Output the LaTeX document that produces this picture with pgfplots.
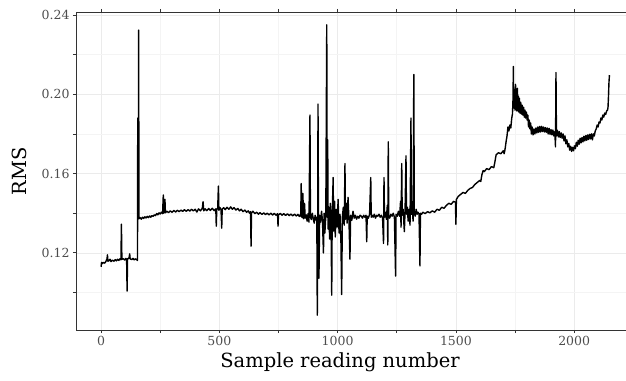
\documentclass[border=0pt]{standalone}
\usepackage{pgfplots}
\pgfplotsset{compat=1.18}
\usepackage{pgfplotstable}
\usepackage{fontspec}
\setmainfont{DejaVu Serif}
\definecolor{ticktxt}{HTML}{4D4D4D}
\definecolor{axln}{HTML}{333333}
\definecolor{gridmaj}{HTML}{EBEBEB}
\definecolor{gridmin}{HTML}{F4F4F4}
\pgfplotstableread{
x y
0 0.1130
2 0.1152
5 0.1146
10 0.1152
15 0.1148
20 0.1156
25 0.1170
27 0.1190
29 0.1158
33 0.1160
38 0.1168
42 0.1156
48 0.1163
55 0.1158
60 0.1166
65 0.1160
70 0.1168
75 0.1162
80 0.1170
84 0.1165
86 0.1345
88 0.1168
95 0.1170
100 0.1164
105 0.1172
108 0.1166
110 0.1007
112 0.1170
118 0.1174
121 0.1195
123 0.1170
130 0.1166
135 0.1172
140 0.1165
145 0.1170
150 0.1166
154 0.1162
155 0.1880
156 0.1400
157 0.1850
158 0.1380
159 0.2324
160 0.1372
165 0.1378
170 0.1370
175 0.1380
180 0.1374
185 0.1382
190 0.1376
195 0.1384
200 0.1378
205 0.1386
210 0.1380
215 0.1388
220 0.1384
225 0.1392
230 0.1388
235 0.1398
240 0.1392
245 0.1402
250 0.1396
255 0.1405
260 0.1398
263 0.1492
265 0.1400
268 0.1410
270 0.1470
272 0.1402
278 0.1410
285 0.1403
292 0.1412
300 0.1405
308 0.1414
315 0.1406
322 0.1415
330 0.1408
338 0.1416
345 0.1409
352 0.1418
360 0.1410
368 0.1418
375 0.1411
382 0.1420
390 0.1412
398 0.1420
405 0.1406
412 0.1422
420 0.1412
428 0.1425
431 0.1458
434 0.1412
440 0.1422
447 0.1413
455 0.1424
462 0.1414
470 0.1425
478 0.1413
485 0.1422
487 0.1335
489 0.1418
493 0.1426
496 0.1537
498 0.1415
503 0.1428
507 0.1418
510 0.1325
512 0.1420
518 0.1428
525 0.1418
532 0.1430
540 0.1420
548 0.1432
555 0.1420
562 0.1428
570 0.1416
578 0.1424
585 0.1412
592 0.1420
600 0.1408
608 0.1416
615 0.1405
622 0.1412
628 0.1400
632 0.1408
634 0.1234
636 0.1402
642 0.1410
650 0.1398
658 0.1405
665 0.1395
672 0.1403
680 0.1394
688 0.1402
695 0.1393
702 0.1400
710 0.1392
718 0.1400
725 0.1391
732 0.1399
740 0.1390
746 0.1398
748 0.1335
750 0.1392
758 0.1399
765 0.1390
772 0.1398
780 0.1389
788 0.1397
795 0.1388
802 0.1396
810 0.1387
818 0.1395
825 0.1386
832 0.1394
838 0.1384
841 0.1392
844 0.1385
846 0.1550
848 0.1386
850 0.1378
853 0.1500
856 0.1372
860 0.1450
863 0.1375
867 0.1392
871 0.1360
875 0.1398
879 0.1355
883 0.1895
885 0.1380
889 0.1368
893 0.1400
897 0.1372
901 0.1350
905 0.1390
909 0.1365
912 0.1380
914 0.0886
916 0.1372
917 0.1950
919 0.1375
921 0.1072
924 0.1390
928 0.1355
932 0.1410
936 0.1360
940 0.1200
943 0.1400
946 0.1300
950 0.1385
954 0.2350
956 0.1380
958 0.1770
960 0.1320
963 0.1430
966 0.1270
969 0.1450
972 0.1360
975 0.0987
977 0.1385
981 0.1580
983 0.1310
987 0.1460
990 0.1280
994 0.1420
998 0.1330
1002 0.1470
1006 0.1300
1010 0.1395
1014 0.1250
1017 0.0990
1020 0.1380
1024 0.1430
1028 0.1340
1031 0.1650
1033 0.1370
1037 0.1450
1040 0.1350
1044 0.1480
1048 0.1360
1052 0.1168
1055 0.1390
1060 0.1365
1065 0.1410
1070 0.1375
1075 0.1390
1080 0.1370
1085 0.1385
1090 0.1375
1095 0.1390
1100 0.1385
1105 0.1375
1110 0.1390
1115 0.1380
1120 0.1390
1123 0.1256
1125 0.1385
1130 0.1375
1135 0.1395
1140 0.1580
1142 0.1380
1146 0.1390
1150 0.1380
1155 0.1395
1160 0.1375
1165 0.1390
1170 0.1385
1175 0.1395
1180 0.1380
1185 0.1390
1190 0.1375
1194 0.1248
1196 0.1580
1198 0.1380
1202 0.1405
1206 0.1370
1210 0.1440
1212 0.1240
1214 0.1760
1216 0.1390
1220 0.1375
1225 0.1395
1230 0.1385
1235 0.1400
1240 0.1380
1245 0.1083
1247 0.1395
1252 0.1385
1257 0.1410
1262 0.1385
1266 0.1460
1268 0.1330
1271 0.1650
1273 0.1390
1277 0.1420
1280 0.1350
1282 0.1307
1285 0.1410
1289 0.1690
1291 0.1395
1295 0.1430
1298 0.1360
1302 0.1420
1306 0.1340
1310 0.1880
1312 0.1395
1316 0.1415
1319 0.1360
1322 0.2100
1324 0.1400
1328 0.1385
1332 0.1420
1336 0.1395
1340 0.1405
1344 0.1395
1348 0.1134
1350 0.1400
1355 0.1395
1360 0.1405
1370 0.1398
1380 0.1408
1390 0.1402
1400 0.1412
1410 0.1405
1420 0.1420
1430 0.1415
1440 0.1430
1450 0.1425
1460 0.1440
1470 0.1450
1480 0.1445
1490 0.1460
1498 0.1455
1500 0.1344
1502 0.1470
1510 0.1485
1520 0.1495
1530 0.1505
1540 0.1500
1550 0.1515
1560 0.1525
1570 0.1530
1580 0.1545
1590 0.1555
1600 0.1565
1605 0.1560
1610 0.1595
1615 0.1615
1620 0.1610
1630 0.1625
1640 0.1620
1650 0.1635
1660 0.1630
1665 0.1660
1670 0.1695
1680 0.1705
1690 0.1700
1700 0.1715
1704 0.1700
1708 0.1725
1712 0.1760
1716 0.1790
1720 0.1835
1724 0.1815
1728 0.1845
1732 0.1830
1736 0.1880
1739 0.1900
1741 0.1960
1743 0.2140
1744 0.1980
1746 0.1930
1748 0.2010
1750 0.1920
1752 0.2050
1754 0.1930
1756 0.2000
1758 0.1915
1760 0.2030
1762 0.1920
1764 0.1990
1766 0.1910
1768 0.1980
1771 0.1905
1774 0.1960
1777 0.1900
1780 0.1945
1783 0.1895
1786 0.1935
1789 0.1885
1792 0.1920
1795 0.1880
1798 0.1910
1801 0.1870
1804 0.1895
1807 0.1835
1810 0.1870
1813 0.1825
1816 0.1855
1819 0.1800
1822 0.1835
1826 0.1795
1830 0.1825
1834 0.1800
1838 0.1830
1842 0.1805
1846 0.1835
1850 0.1808
1854 0.1838
1858 0.1810
1862 0.1838
1866 0.1812
1870 0.1835
1874 0.1810
1878 0.1832
1882 0.1808
1886 0.1830
1890 0.1800
1894 0.1828
1898 0.1798
1902 0.1822
1906 0.1795
1910 0.1820
1914 0.1790
1918 0.1812
1921 0.1735
1923 0.2110
1925 0.1790
1929 0.1818
1933 0.1785
1937 0.1812
1941 0.1782
1945 0.1805
1949 0.1778
1953 0.1800
1957 0.1765
1961 0.1790
1965 0.1750
1969 0.1770
1973 0.1735
1977 0.1752
1981 0.1718
1985 0.1738
1989 0.1712
1993 0.1732
1997 0.1715
2001 0.1740
2005 0.1725
2009 0.1758
2013 0.1738
2017 0.1768
2021 0.1748
2025 0.1778
2029 0.1755
2033 0.1782
2037 0.1760
2041 0.1788
2045 0.1765
2049 0.1792
2053 0.1768
2057 0.1795
2061 0.1772
2065 0.1798
2069 0.1775
2073 0.1800
2077 0.1770
2081 0.1800
2085 0.1790
2089 0.1815
2093 0.1825
2097 0.1845
2101 0.1835
2105 0.1860
2109 0.1855
2113 0.1880
2117 0.1870
2121 0.1895
2125 0.1885
2129 0.1905
2133 0.1898
2137 0.1915
2141 0.1920
2143 0.1935
2145 0.1990
2147 0.2060
2149 0.2097
}\rms
\begin{document}
\begin{tikzpicture}
\path[use as bounding box] (-76bp,-51bp) rectangle (550bp,330bp);
\begin{axis}[
  scale only axis,
  width=550bp, height=318bp,
  xmin=-106, xmax=2219,
  ymin=0.0811, ymax=0.2415,
  xtick={0,500,1000,1500,2000},
  minor xtick={250,750,1250,1750},
  ytick={0.12,0.16,0.20,0.24},
  minor ytick={0.10,0.14,0.18,0.22},
  yticklabel style={/pgf/number format/.cd,fixed,fixed zerofill,precision=2},
  xticklabel style={/pgf/number format/.cd,fixed,1000 sep={}},
  /pgf/number format/assume math mode=true,
  scaled y ticks=false,
  tick label style={font=\fontsize{12.5bp}{14bp}\selectfont, text=ticktxt},
  grid=both,
  major grid style={gridmaj, line width=0.6pt},
  minor grid style={gridmin, line width=0.6pt},
  axis line style={axln, line width=0.8pt},
  tick style={axln, line width=0.8pt},
  tick align=outside,
  major tick length=3bp,
  minor tick length=3bp,
  xlabel={Sample reading number},
  ylabel={RMS},
  label style={font=\fontsize{19.5bp}{22bp}\selectfont, text=black},
  xlabel style={at={(axis description cs:0.48,0)}, anchor=north, yshift=-19bp},
  ylabel style={at={(axis description cs:0,0.5)}, anchor=center, yshift=57bp},
]
\addplot[black, line width=1.4pt, line join=round] table[x=x,y=y]{\rms};
\end{axis}
\end{tikzpicture}
\end{document}
